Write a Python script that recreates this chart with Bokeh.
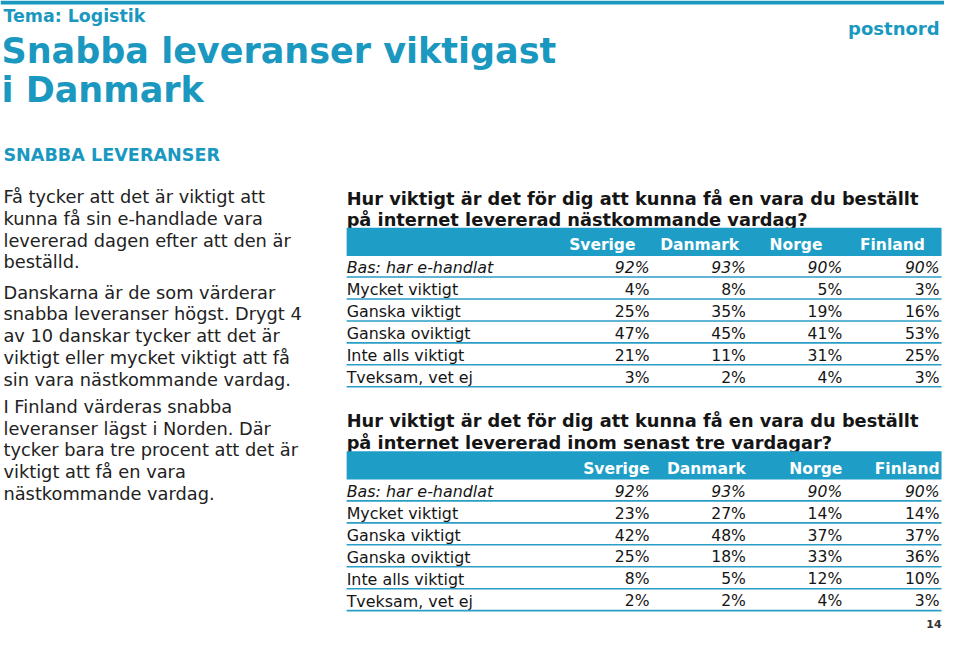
from bokeh.plotting import figure
from bokeh.models import ColumnDataSource, Range1d
from bokeh.core.properties import value
from bokeh.embed import file_html
from bokeh.resources import INLINE

# ---------------- data ----------------
countries = ["Sverige", "Danmark", "Norge", "Finland"]
row_labels = ["Bas: har e-handlat", "Mycket viktigt", "Ganska viktigt",
              "Ganska oviktigt", "Inte alls viktigt", "Tveksam, vet ej"]

q1_title = ["Hur viktigt är det för dig att kunna få en vara du beställt",
            "på internet levererad nästkommande vardag?"]
q1_sverige = [92, 4, 25, 47, 21, 3]
q1_danmark = [93, 8, 35, 45, 11, 2]
q1_norge = [90, 5, 19, 41, 31, 4]
q1_finland = [90, 3, 16, 53, 25, 3]

q2_title = ["Hur viktigt är det för dig att kunna få en vara du beställt",
            "på internet levererad inom senast tre vardagar?"]
q2_sverige = [92, 23, 42, 25, 8, 2]
q2_danmark = [93, 27, 48, 18, 5, 2]
q2_norge = [90, 14, 37, 33, 12, 4]
q2_finland = [90, 14, 37, 36, 10, 3]

theme_label = "Tema: Logistik"
headline = ["Snabba leveranser viktigast", "i Danmark"]
section_label = "SNABBA LEVERANSER"
body_paragraphs = [
    ["Få tycker att det är viktigt att", "kunna få sin e-handlade vara",
     "levererad dagen efter att den är", "beställd."],
    ["Danskarna är de som värderar", "snabba leveranser högst. Drygt 4",
     "av 10 danskar tycker att det är", "viktigt eller mycket viktigt att få",
     "sin vara nästkommande vardag."],
    ["I Finland värderas snabba", "leveranser lägst i Norden. Där",
     "tycker bara tre procent att det är", "viktigt att få en vara",
     "nästkommande vardag."],
]
logo_text = "postnord"
page_number = "14"

# ---------------- style ----------------
TEAL = "#1a98c0"
BAND = "#1e9ec6"
LINE = "#2a9ec6"
INK = "#151515"
FONT = "DejaVu Sans"

p = figure(width=944, height=635, output_backend="svg", toolbar_location=None,
           x_range=Range1d(0, 960), y_range=Range1d(651, 0),
           min_border=0, min_border_left=0, min_border_right=0,
           min_border_top=0, min_border_bottom=0)
p.axis.visible = False
p.grid.visible = False
p.outline_line_color = None
p.background_fill_color = "white"
p.border_fill_color = "white"


def txt(x, y, t, size, color=INK, style="normal", align="left"):
    p.text(x=[x], y=[y], text=[t], text_font=value(FONT), text_font_size=size,
           text_color=color, text_font_style=style, text_align=align,
           text_baseline="middle")


# top rule
p.quad(left=[0], right=[960], top=[0], bottom=[4], fill_color=TEAL, line_color=None)

# header texts
txt(3, 16, theme_label, "17.4px", TEAL, "bold")
txt(1, 52, headline[0], "35px", TEAL, "bold")
txt(1, 92, headline[1], "35px", TEAL, "bold")
txt(955, 29, logo_text, "18px", TEAL, "bold", "right")
txt(3, 158, section_label, "17.6px", TEAL, "bold")

# body paragraphs
para_tops = [201, 299, 416]
LS = 22.3
for top, lines in zip(para_tops, body_paragraphs):
    ys = [top + i * LS for i in range(len(lines))]
    p.text(x=[3] * len(lines), y=ys, text=lines, text_font=value(FONT),
           text_font_size="17.8px", text_color="#222222", text_baseline="middle")

# tables
TX0, TX1 = 352, 957
col_right = [660, 758, 856, 955]
CELL = "15.6px"


def draw_table(title, header_x, header_align, vals, title_y, band_top, band_bot,
               header_y, row0):
    for i, line in enumerate(title):
        txt(TX0, title_y + i * 22, line, "17.8px", INK, "bold")
    p.quad(left=[TX0], right=[TX1], top=[band_top], bottom=[band_bot],
           fill_color=BAND, line_color=None)
    p.text(x=header_x, y=[header_y] * 4, text=countries, text_font=value(FONT),
           text_font_size="15.5px", text_font_style="bold", text_color="white",
           text_align=header_align, text_baseline="middle")
    step = 22.5
    ys = [row0 + i * step for i in range(len(row_labels))]
    styles = ["italic"] + ["normal"] * (len(row_labels) - 1)
    src = ColumnDataSource(dict(x=[TX0] * len(row_labels), y=ys, t=row_labels, s=styles))
    p.text(x="x", y="y", text="t", text_font_style="s", source=src,
           text_font=value(FONT), text_font_size="15.9px", text_color=INK,
           text_baseline="middle")
    for c, series in enumerate(vals):
        vs = ColumnDataSource(dict(x=[col_right[c]] * len(series), y=ys,
                                   t=["%d%%" % v for v in series], s=styles))
        p.text(x="x", y="y", text="t", text_font_style="s", source=vs,
               text_font=value(FONT), text_font_size=CELL, text_color=INK,
               text_align="right", text_baseline="middle")
    uy = [y + 9.5 for y in ys]
    p.segment(x0=[TX0] * len(uy), x1=[TX1] * len(uy), y0=uy, y1=uy,
              line_color=LINE, line_width=1.6)


draw_table(q1_title, [612, 711, 809, 907], "center",
           [q1_sverige, q1_danmark, q1_norge, q1_finland],
           203, 233, 262, 251, 274)
draw_table(q2_title, col_right, "right",
           [q2_sverige, q2_danmark, q2_norge, q2_finland],
           431, 462, 491, 480, 503.5)

txt(957, 639, page_number, "11px", "#333333", "bold", "right")

open("out.html", "w").write(file_html(p, INLINE))
